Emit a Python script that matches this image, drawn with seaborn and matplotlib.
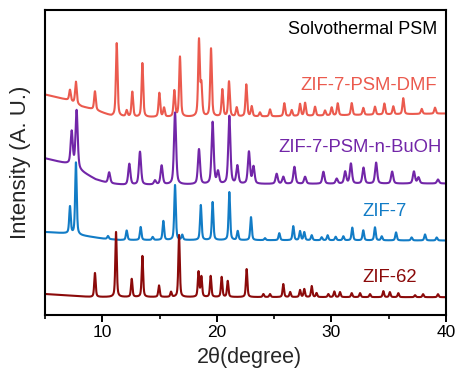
import numpy as np
import pandas as pd
import matplotlib
matplotlib.use("Agg")
import matplotlib.pyplot as plt
import seaborn as sns

sns.set_theme(style="white")
plt.rcParams['font.family'] = ['Liberation Sans', 'DejaVu Sans']

# ---------------- data ----------------
series_names = ["ZIF-7-PSM-DMF", "ZIF-7-PSM-n-BuOH", "ZIF-7", "ZIF-62"]
series_colors = ["#EB5A4E", "#7226A8", "#127CC6", "#8B0A0A"]

# baseline knots (2theta, intensity) per series
dmf_base_x = [5, 7, 8.2, 9.4, 10.8, 13, 25, 40]
dmf_base_y = [220.5, 215, 208.5, 205, 199, 197.7, 198.5, 201.5]
buoh_base_x = [5, 7, 8.2, 9.4, 10.5, 12, 25, 40]
buoh_base_y = [156.7, 151, 143.3, 135.7, 131.7, 130, 131, 131.5]
zif7_base_x = [5, 7, 8.5, 10, 11.5, 40]
zif7_base_y = [83, 81.5, 79, 76.5, 75, 74.5]
zif62_base_x = [5, 9, 40]
zif62_base_y = [21, 18, 17.8]

# peak positions (2theta) and heights above baseline
dmf_pos = [7.18, 7.7, 9.36, 11.26, 12.13, 12.62, 13.5, 14.98, 15.39, 16.29, 16.78,
           18.44, 18.65, 19.49, 20.48, 21.06, 21.73, 22.57, 23.04, 23.76, 24.64,
           25.89, 26.53, 27.26, 27.7, 28.57, 29.44, 30.02, 30.55, 31.77, 32.78,
           33.8, 34.62, 35.4, 36.27, 37.88, 39.04]
dmf_h = [11, 22, 18.5, 73, 6, 25, 54, 24, 9, 26, 60,
         76, 30, 68, 27, 35, 9, 32, 10, 4, 7,
         13, 6, 12, 13, 9, 5, 8, 12, 12, 7,
         8, 11, 8, 16, 5, 6]

buoh_pos = [7.33, 7.76, 10.6, 12.36, 13.29, 14.6, 15.18, 16.35, 18.44, 19.63, 20.1,
            21.09, 21.79, 22.8, 23.2, 25.22, 25.8, 26.77, 27.7, 29.3, 30.46,
            31.2, 31.7, 32.8, 33.9, 35.3, 37.2, 37.6, 39.3]
buoh_h = [34, 58, 11, 21, 33, 4, 19, 72, 35, 62, 12,
          68, 18, 32, 17, 10, 7, 17, 7, 12, 5,
          12, 20, 16, 21, 12, 12, 6, 4]

zif7_pos = [7.18, 7.7, 10.5, 12.13, 13.35, 14.4, 15.33, 16.35, 16.98, 18.6, 19.63,
            21.09, 21.82, 22.98, 24.2, 25.45, 26.67, 27.26, 27.63, 28.28, 29.15,
            29.67, 30.37, 31.04, 31.82, 32.78, 33.8, 34.39, 35.64, 37.0, 38.17, 39.19]
zif7_h = [27, 72, 3, 9.5, 13, 3, 19, 55, 5, 35, 38,
          48, 9, 23, 2, 7, 14, 9, 8, 5, 3,
          5, 3.5, 4, 12.7, 10, 13, 4, 8, 3, 6, 3]

zif62_pos = [9.36, 11.2, 12.57, 13.5, 14.95, 16.0, 16.7, 18.4, 18.65, 19.46, 20.42,
             20.95, 22.6, 24.06, 24.64, 25.8, 26.4, 27.26, 27.63, 28.28, 28.7,
             29.73, 30.25, 30.75, 31.77, 32.5, 33.37, 34.53, 35.1, 35.84, 37.3,
             38.0, 39.3]
zif62_h = [24, 65, 18, 41, 11.5, 5, 62, 25, 20, 21, 20,
           16, 28, 3, 3, 13, 5, 7, 8, 11, 4,
           3, 5.6, 5, 4, 4, 3, 6, 5, 4, 2,
           3, 3]

label_x = [39.21, 39.65, 36.6, 37.47]
label_y = [230, 168, 103, 38]
x_ticks = [10, 20, 30, 40]

# ---------------- build profiles ----------------
two_theta = np.arange(5, 40.0001, 0.01)


def profile(bx, by, pos, h, fwhm):
    y = np.interp(two_theta, bx, by)
    g = fwhm / 2.0
    for c, a in zip(pos, h):
        lor = 1.0 / (1.0 + ((two_theta - c) / g) ** 2)
        gau = np.exp(-np.log(2) * ((two_theta - c) / g) ** 2)
        y = y + a * (0.5 * lor + 0.5 * gau)
    return y


curves = [
    profile(dmf_base_x, dmf_base_y, dmf_pos, dmf_h, 0.17),
    profile(buoh_base_x, buoh_base_y, buoh_pos, buoh_h, 0.22),
    profile(zif7_base_x, zif7_base_y, zif7_pos, zif7_h, 0.16),
    profile(zif62_base_x, zif62_base_y, zif62_pos, zif62_h, 0.15),
]

df = pd.concat([
    pd.DataFrame({"two_theta": two_theta, "intensity": c, "sample": n})
    for n, c in zip(series_names, curves)
], ignore_index=True)

# ---------------- plot ----------------
fig = plt.figure(figsize=(4.56, 3.71), dpi=100)
ax = fig.add_axes([45 / 456, 56 / 371, 401 / 456, 305 / 371])

sns.lineplot(data=df, x="two_theta", y="intensity", hue="sample",
             hue_order=series_names, palette=series_colors,
             estimator=None, sort=False, linewidth=1.5, legend=False, ax=ax)

ax.set_xlim(5, 40)
ax.set_ylim(0, 305)
ax.set_xticks(x_ticks)
ax.set_xticks([5, 15, 25, 35], minor=True)
ax.set_yticks([])
ax.tick_params(axis="x", which="major", direction="out", length=5, width=1.4,
               labelsize=12.5, pad=2, bottom=True, colors="black")
ax.tick_params(axis="x", which="minor", direction="out", length=3, width=1.4,
               bottom=True)
for s in ax.spines.values():
    s.set_color("black")
    s.set_linewidth(1.5)

ax.set_xlabel("2θ(degree)", fontsize=15.5, va="top")
ax.xaxis.set_label_coords(0.51, (315 - 347) / 305)
ax.set_ylabel("Intensity (A. U.)", fontsize=16, va="center")
ax.yaxis.set_label_coords((21 - 45) / 401, 0.5)

ax.text(39.21, 286, "Solvothermal PSM", ha="right", va="center",
        fontsize=13, color="black")
for n, c, lx, ly in zip(series_names, series_colors, label_x, label_y):
    ax.text(lx, ly, n, ha="right", va="center", fontsize=13.3, color=c)

fig.savefig("out.png", dpi=100)
